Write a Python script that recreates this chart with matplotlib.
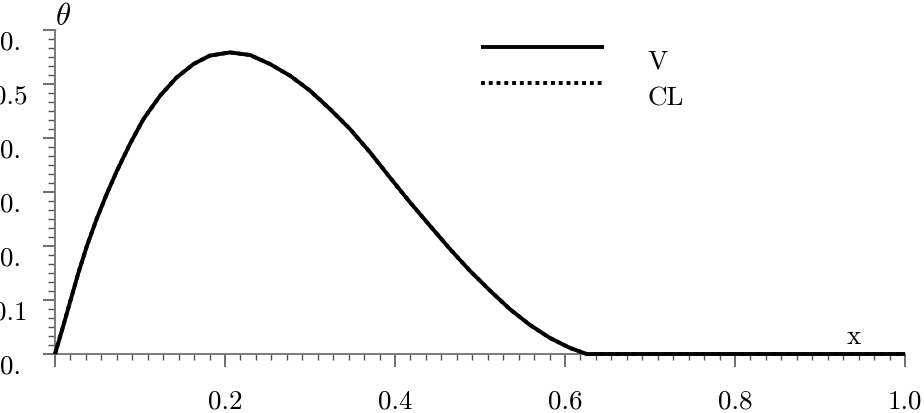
import matplotlib
matplotlib.use("Agg")
import matplotlib.pyplot as plt
from matplotlib.legend_handler import HandlerLine2D
import matplotlib.transforms as mtransforms
import numpy as np

plt.rcParams['font.family'] = ['cmr10', 'DejaVu Serif']
plt.rcParams['mathtext.fontset'] = 'cm'

# ---- data ----
x_vals = [0.000, 0.0098, 0.0176, 0.0275, 0.0373, 0.049, 0.0608, 0.0725, 0.0882,
          0.104, 0.1235, 0.143, 0.163, 0.182, 0.2059, 0.2294, 0.2529, 0.2765,
          0.300, 0.3235, 0.347, 0.3706, 0.394, 0.4176, 0.441, 0.4647, 0.488,
          0.5118, 0.535, 0.5588, 0.5824, 0.606, 0.6255, 1.000]
v_vals = [0.000, 0.0525, 0.0957, 0.150, 0.199, 0.250, 0.296, 0.338, 0.389,
          0.435, 0.478, 0.512, 0.537, 0.5525, 0.5585, 0.5537, 0.537, 0.5154,
          0.4877, 0.4537, 0.4167, 0.3735, 0.327, 0.281, 0.2377, 0.1944, 0.1543,
          0.1173, 0.0833, 0.0537, 0.0296, 0.0111, 0.000, 0.000]
cl_vals = v_vals  # CL coincides with V (hidden beneath it)

xtick_vals = [0.0, 0.2, 0.4, 0.6, 0.8, 1.0]
xtick_labels = ["", "0.2", "0.4", "0.6", "0.8", "1.0"]
ytick_vals = [0.0, 0.1, 0.2, 0.3, 0.4, 0.5, 0.6]
ytick_labels = ["0.", "0.1", "0.", "0.", "0.", "0.5", "0."]
series_names = ["V", "CL"]

W, H = 924, 414
FS = 19.5
fig = plt.figure(figsize=(W / 100, H / 100), dpi=100)
ax = fig.add_axes([55 / W, 1 - 355 / H, (905 - 55) / W, (355 - 31) / H])
ax.set_xlim(0, 1.0)
ax.set_ylim(0, 0.6)
ax.patch.set_visible(False)

for s in ["top", "right"]:
    ax.spines[s].set_visible(False)
for s in ["left", "bottom"]:
    ax.spines[s].set_color("#7a7a7a")
    ax.spines[s].set_linewidth(1.4)

ax.plot(x_vals, cl_vals, color="black", lw=2.8, ls=(0, (1, 1)), label=series_names[1],
        clip_on=False, zorder=3)
ax.plot(x_vals, v_vals, color="black", lw=2.8, label=series_names[0],
        clip_on=False, zorder=4, solid_capstyle="butt", solid_joinstyle="round")

# ticks
ax.set_xticks(xtick_vals, xtick_labels)
ax.set_xticks(np.linspace(0, 1.0, 56), minor=True)
ax.set_yticks(ytick_vals, ytick_labels)
ax.set_yticks(np.linspace(0, 0.6, 37), minor=True)
ax.tick_params(axis="x", which="major", length=9.3, width=1.2, color="#555555",
               direction="out", pad=16, labelsize=FS)
ax.tick_params(axis="x", which="minor", length=4.3, width=1.0, color="#555555",
               direction="out")
ax.tick_params(axis="y", which="major", length=8.6, width=1.2, color="#555555",
               direction="out", pad=23.8, labelsize=FS)
ax.tick_params(axis="y", which="minor", length=5.0, width=1.0, color="#555555",
               direction="out")
for lab in ax.get_yticklabels():
    lab.set_horizontalalignment("center")
    lab.set_verticalalignment("top")
    lab.set_clip_on(False)

# axis labels
ax.text(0.0, 1.0, r"$\theta$", transform=ax.transAxes, fontsize=22,
        ha="left", va="bottom")
ax.text(0.94, 0.0, "x", fontsize=FS, ha="center", va="bottom",
        transform=ax.transAxes + mtransforms.ScaledTranslation(0, 6 / 100, fig.dpi_scale_trans))


class ShiftedHandler(HandlerLine2D):
    def create_artists(self, legend, orig_handle, xdescent, ydescent,
                       width, height, fontsize, trans):
        arts = super().create_artists(legend, orig_handle, xdescent, ydescent,
                                      width, height, fontsize, trans)
        for a in arts:
            yd = a.get_ydata()
            a.set_ydata(np.asarray(yd) + 0.42 * fontsize)
        return arts


handles, labels = ax.get_legend_handles_labels()
order = [labels.index(n) for n in series_names]
leg = ax.legend([handles[i] for i in order], [labels[i] for i in order],
                loc="upper left", bbox_to_anchor=(481 / W, 1 - 50 / H),
                bbox_transform=fig.transFigure, frameon=False, fontsize=FS,
                handlelength=4.55, handletextpad=1.6, labelspacing=0.45,
                borderpad=0, borderaxespad=0,
                handler_map={plt.Line2D: ShiftedHandler()})

fig.savefig("out.png", dpi=100)
